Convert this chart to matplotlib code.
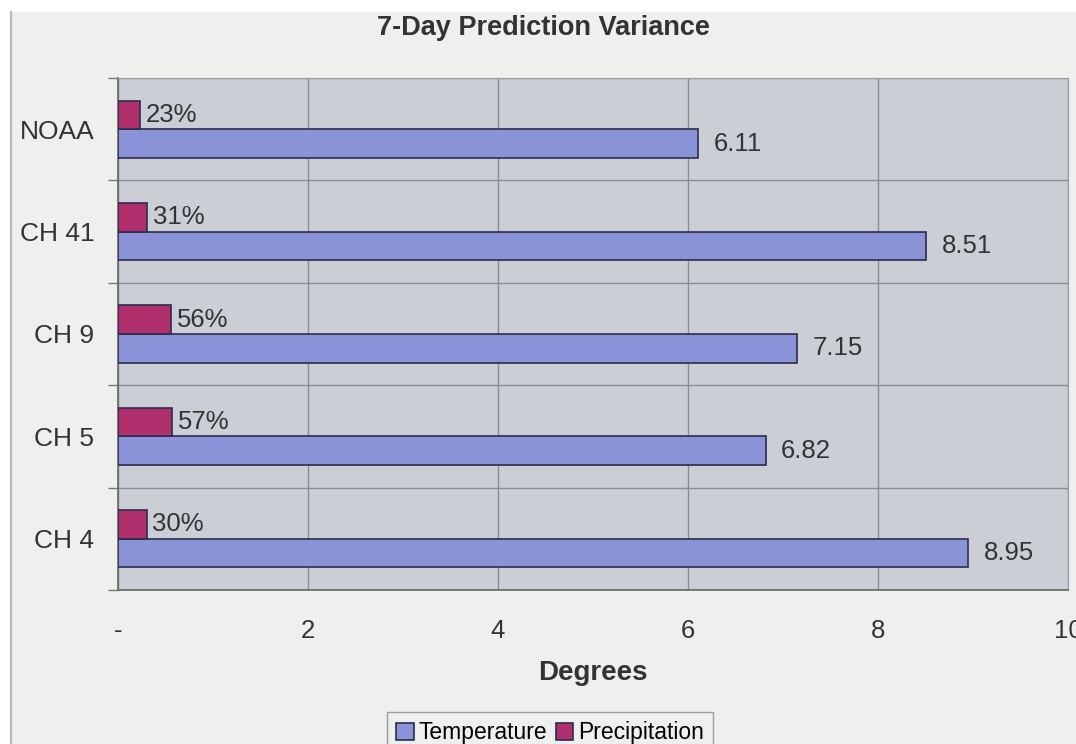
import numpy as np
import matplotlib
matplotlib.use("Agg")
import matplotlib.pyplot as plt
from matplotlib.patches import Rectangle
from matplotlib.lines import Line2D
from matplotlib.ticker import FixedLocator, FuncFormatter

plt.rcParams['font.family'] = ['Liberation Sans', 'DejaVu Sans']

# datos (de abajo hacia arriba)
estaciones = ["CH 4", "CH 5", "CH 9", "CH 41", "NOAA"]
temperatura = [8.95, 6.82, 7.15, 8.51, 6.11]
precipitacion = [0.30, 0.57, 0.56, 0.31, 0.23]
ticks_x = [0, 2, 4, 6, 8, 10]

colTemp = "#8a92d8"
colPrec = "#b0306e"
borde = "#2c2c4c"
fondoFig = "#eef0ed"
fondoEje = "#cbced5"
texto = "#333333"

fig = plt.figure(figsize=(10.76, 7.44), dpi=100)
fig.patch.set_facecolor("white")
fig.add_artist(Rectangle((11/1076, 0), 1 - 11/1076, 1 - 12/744,
                         transform=fig.transFigure, facecolor=fondoFig,
                         edgecolor="none", zorder=-10))
fig.add_artist(Line2D([11/1076, 11/1076], [0, 1 - 12/744], transform=fig.transFigure,
                      color="#b8bab8", lw=1.5))

ax = fig.add_axes([118/1076, 1 - 590/744, 950/1076, 512/744])
ax.set_facecolor(fondoEje)

y = np.arange(len(estaciones))
h = 0.28
barrasT = ax.barh(y - h/2, temperatura, height=h, color=colTemp, edgecolor=borde,
                  linewidth=1.2, label="Temperature", zorder=3)
barrasP = ax.barh(y + h/2, precipitacion, height=h, color=colPrec, edgecolor=borde,
                  linewidth=1.2, label="Precipitation", zorder=3)

for i in range(len(estaciones)):
    ax.annotate("%.2f" % temperatura[i], (temperatura[i], y[i] - h/2),
                xytext=(11, 0), textcoords="offset points", va="center", ha="left",
                fontsize=18.5, color=texto)
    ax.annotate("%d%%" % round(precipitacion[i]*100), (precipitacion[i], y[i] + h/2),
                xytext=(4, 0), textcoords="offset points", va="center", ha="left",
                fontsize=18.5, color=texto)

ax.set_xlim(0, 10)
ax.set_ylim(-0.5, len(estaciones) - 0.5)
ax.xaxis.set_major_locator(FixedLocator(ticks_x))
ax.xaxis.set_major_formatter(FuncFormatter(lambda v, p: "-" if v == 0 else "%d" % v))
ax.set_yticks(y)
ax.set_yticklabels(estaciones)
ax.yaxis.set_minor_locator(FixedLocator(np.arange(-0.5, len(estaciones), 1)))
ax.tick_params(axis="x", length=0, pad=21, labelsize=18.5, labelcolor=texto)
ax.tick_params(axis="y", which="major", length=0, pad=17, labelsize=19, labelcolor=texto)
ax.tick_params(axis="y", which="minor", length=7, width=1, color="#777777", direction="out")

ax.grid(axis="x", color="#8a8c92", linewidth=1, zorder=0)
ax.grid(axis="y", which="minor", color="#8a8c92", linewidth=1, zorder=0)
ax.set_axisbelow(True)
for s in ["top", "right"]:
    ax.spines[s].set_color("#9a9ca2")
for s in ["left", "bottom"]:
    ax.spines[s].set_color("#666666")
    ax.spines[s].set_linewidth(1.2)

ax.set_xlabel("Degrees", fontsize=20, fontweight="bold", color=texto, labelpad=12)
fig.text(543/1076, 1 - 28/744, "7-Day Prediction Variance", ha="center", va="center",
         fontsize=19.5, fontweight="bold", color=texto)

fig.legend(handles=[barrasT, barrasP], loc="upper center",
           bbox_to_anchor=(550/1076, 1 - 712/744), ncol=2, fontsize=16.5,
           frameon=True, fancybox=False, edgecolor="#888888", facecolor=fondoFig,
           handlelength=0.75, handleheight=0.75, handletextpad=0.2, columnspacing=0.4,
           borderpad=0.4, borderaxespad=0)

fig.savefig("out.png", dpi=100, facecolor=fig.get_facecolor())
